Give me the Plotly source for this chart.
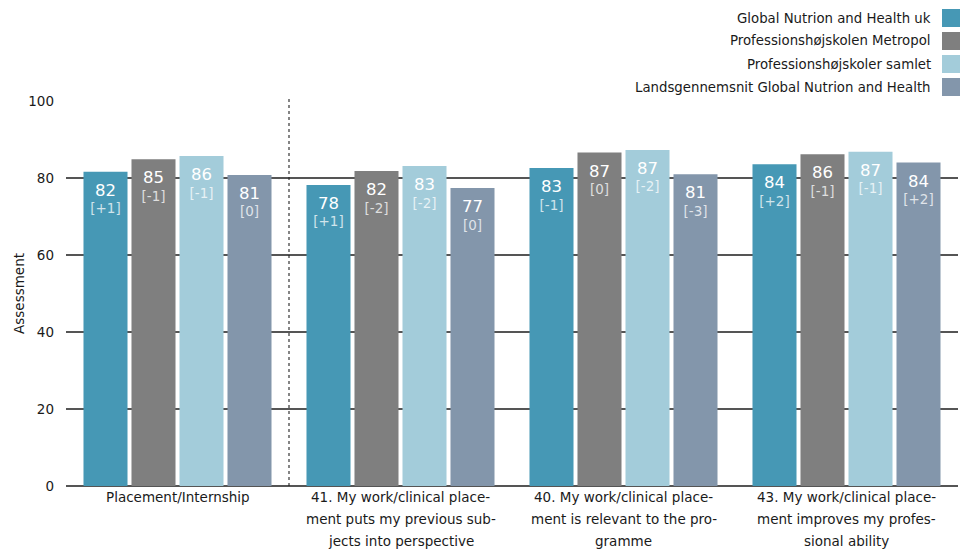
import plotly.graph_objects as go

# Question groups along the x axis (one entry per label line)
categories = [
    "Placement/Internship",
    "41. My work/clinical placement puts my previous subjects into perspective",
    "40. My work/clinical placement is relevant to the programme",
    "43. My work/clinical placement improves my professional ability",
]
category_lines = [
    ["Placement/Internship"],
    ["41. My work/clinical place-", "ment puts my previous sub-", "jects into perspective"],
    ["40. My work/clinical place-", "ment is relevant to the pro-", "gramme"],
    ["43. My work/clinical place-", "ment improves my profes-", "sional ability"],
]

series_names = [
    "Global Nutrion and Health uk",
    "Professionshøjskolen Metropol",
    "Professionshøjskoler samlet",
    "Landsgennemsnit Global Nutrion and Health",
]

# Average assessment per group
gnh_uk = [81.6, 78.2, 82.6, 83.6]
metropol = [84.9, 81.8, 86.6, 86.2]
samlet = [85.7, 83.1, 87.3, 86.8]
landsgns = [80.8, 77.4, 81.0, 84.0]

# Change since previous survey
gnh_uk_diff = ["+1", "+1", "-1", "+2"]
metropol_diff = ["-1", "-2", "0", "-1"]
samlet_diff = ["-1", "-2", "-2", "-1"]
landsgns_diff = ["0", "0", "-3", "+2"]

colors = ["#4698B5", "#7F7F7F", "#A3CCDA", "#8396AB"]
values = [gnh_uk, metropol, samlet, landsgns]
diffs = [gnh_uk_diff, metropol_diff, samlet_diff, landsgns_diff]

FONT = "DejaVu Sans"
# tall hair space: adds headroom above the value without adding width
PAD = "<span style='font-size:23px'>\u200a</span>"

fig = go.Figure()
for name, vals, dif, col in zip(series_names, values, diffs, colors):
    labels = [
        f"{PAD}<span style='font-size:16.5px'>{v:.0f}</span>{PAD}<br>"
        f"<span style='color:rgba(255,255,255,0.75)'>[{d}]</span>"
        for v, d in zip(vals, dif)
    ]
    fig.add_trace(go.Bar(
        x=categories, y=vals, name=name, marker=dict(color=col, line=dict(width=0)),
        text=labels, textposition="inside", insidetextanchor="end",
        textangle=0, texttemplate="%{text}",
        insidetextfont=dict(family=FONT, size=13.5, color="white"),
        showlegend=False,
    ))

# Plot-area geometry in pixels (used to place the legend block)
W, H = 967, 551
L, R, T, B = 66, 9, 101, 65
pw, ph = W - L - R, H - T - B

def px_x(x):
    return (x - L) / pw

def px_y(y):
    return 1 - (y - T) / ph

shapes = [
    dict(type="line", xref="x", yref="paper", x0=0.5, x1=0.5, y0=0, y1=px_y(98),
         line=dict(color="#222222", width=1.1, dash="dot"), layer="above"),
]
annotations = []
for i, (name, col) in enumerate(zip(series_names, colors)):
    top = 9 + i * 23
    shapes.append(dict(type="rect", xref="paper", yref="paper",
                       x0=px_x(942), x1=px_x(960), y0=px_y(top + 18), y1=px_y(top),
                       fillcolor=col, line=dict(width=0)))
    annotations.append(dict(xref="paper", yref="paper", x=px_x(933), y=px_y(top + 9),
                            text=name, showarrow=False, xanchor="right", yanchor="middle",
                            font=dict(family=FONT, size=13.3, color="#1a1a1a")))

# Category labels, one line at a time for wider line spacing
for cat, lines in zip(categories, category_lines):
    for j, line in enumerate(lines):
        annotations.append(dict(xref="x", yref="paper", x=cat, y=0, yanchor="middle",
                                yshift=-(11 + j * 22), text=line, showarrow=False,
                                font=dict(family=FONT, size=13.5, color="#1a1a1a")))

fig.update_layout(
    width=W, height=H,
    margin=dict(l=L, r=R, t=T, b=B),
    paper_bgcolor="white", plot_bgcolor="white",
    barmode="group", bargap=0.139, bargroupgap=0.083,
    font=dict(family=FONT, size=13.5, color="#1a1a1a"),
    shapes=shapes, annotations=annotations,
    xaxis=dict(showgrid=False, showline=False, ticks="", showticklabels=False,
               fixedrange=True),
    yaxis=dict(range=[0, 100], dtick=20, showgrid=True, gridcolor="#555555",
               gridwidth=1.5, zeroline=True, zerolinecolor="#555555", zerolinewidth=1.5,
               showline=False, ticks="", tickfont=dict(size=13.5), ticklabelstandoff=11,
               title=dict(text="Assessment", font=dict(size=13.5), standoff=0),
               fixedrange=True),
)

fig.write_html("out.html")
